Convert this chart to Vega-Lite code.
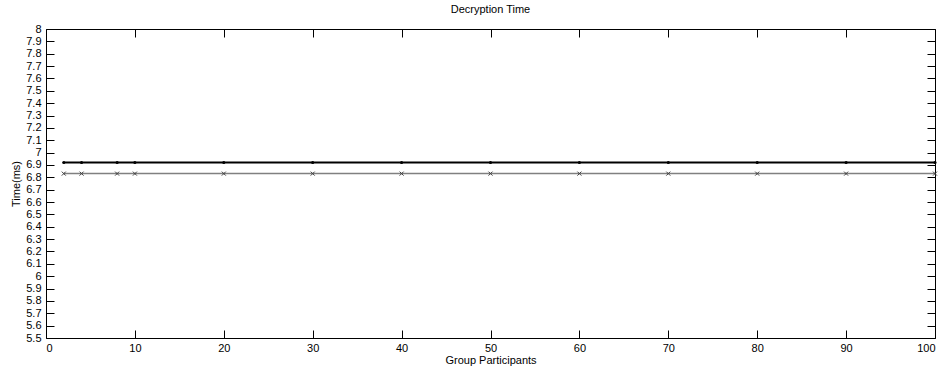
{
  "$schema": "https://vega.github.io/schema/vega-lite/v6.json",
  "width": 889,
  "height": 309,
  "autosize": {"type": "none"},
  "padding": {"left": 46, "top": 29, "right": 8, "bottom": 30},
  "background": "white",
  "title": {"text": "Decryption Time", "font": "Liberation Sans", "fontSize": 11, "fontWeight": "normal", "color": "black", "offset": 8},
  "config": {
    "view": {"stroke": "black", "strokeWidth": 1},
    "axis": {
      "domain": false,
      "grid": false,
      "ticks": true,
      "tickColor": "black",
      "tickSize": -8,
      "tickWidth": 1,
      "labelFont": "Liberation Sans",
      "labelFontSize": 11,
      "labelColor": "black",
      "titleFont": "Liberation Sans",
      "titleFontSize": 11,
      "titleFontWeight": "normal",
      "titleColor": "black"
    }
  },
  "data": {
    "values": [
      {"p": 2, "t": 6.92, "s": "A"}, {"p": 4, "t": 6.92, "s": "A"}, {"p": 8, "t": 6.92, "s": "A"}, {"p": 10, "t": 6.92, "s": "A"},
      {"p": 20, "t": 6.92, "s": "A"}, {"p": 30, "t": 6.92, "s": "A"}, {"p": 40, "t": 6.92, "s": "A"}, {"p": 50, "t": 6.92, "s": "A"},
      {"p": 60, "t": 6.92, "s": "A"}, {"p": 70, "t": 6.92, "s": "A"}, {"p": 80, "t": 6.92, "s": "A"}, {"p": 90, "t": 6.92, "s": "A"},
      {"p": 100, "t": 6.92, "s": "A"},
      {"p": 2, "t": 6.83, "s": "B"}, {"p": 4, "t": 6.83, "s": "B"}, {"p": 8, "t": 6.83, "s": "B"}, {"p": 10, "t": 6.83, "s": "B"},
      {"p": 20, "t": 6.83, "s": "B"}, {"p": 30, "t": 6.83, "s": "B"}, {"p": 40, "t": 6.83, "s": "B"}, {"p": 50, "t": 6.83, "s": "B"},
      {"p": 60, "t": 6.83, "s": "B"}, {"p": 70, "t": 6.83, "s": "B"}, {"p": 80, "t": 6.83, "s": "B"}, {"p": 90, "t": 6.83, "s": "B"},
      {"p": 100, "t": 6.83, "s": "B"}
    ]
  },
  "layer": [
    {
      "encoding": {
        "x": {"field": "p", "type": "quantitative", "scale": {"domain": [0, 100], "nice": false},
          "axis": {"orient": "bottom", "title": "Group Participants", "values": [0,10,20,30,40,50,60,70,80,90,100], "labelPadding": 12, "titlePadding": 1}},
        "y": {"field": "t", "type": "quantitative", "scale": {"domain": [5.5, 8], "nice": false, "zero": false},
          "axis": {"orient": "left", "title": "Time(ms)", "format": "~g", "values": [5.5,5.6,5.7,5.8,5.9,6,6.1,6.2,6.3,6.4,6.5,6.6,6.7,6.8,6.9,7,7.1,7.2,7.3,7.4,7.5,7.6,7.7,7.8,7.9,8], "labelPadding": 13, "titlePadding": 4}}
      },
      "layer": [
        {"transform": [{"filter": "datum.s === 'B'"}], "mark": {"type": "line", "stroke": "#808080", "strokeWidth": 1.5}},
        {"transform": [{"filter": "datum.s === 'A'"}], "mark": {"type": "line", "stroke": "#000000", "strokeWidth": 2}},
        {"transform": [{"filter": "datum.s === 'B'"}], "mark": {"type": "point", "shape": "M-1,-1L1,1M1,-1L-1,1", "filled": false, "stroke": "#404040", "strokeWidth": 1, "size": 16, "opacity": 1}},
        {"transform": [{"filter": "datum.s === 'A'"}], "mark": {"type": "point", "shape": "circle", "filled": true, "color": "#000000", "size": 10, "opacity": 1}}
      ]
    },
    {
      "mark": {"type": "point", "opacity": 0},
      "encoding": {
        "x": {"field": "p", "type": "quantitative", "scale": {"domain": [0, 100], "nice": false},
          "axis": {"orient": "top", "title": null, "labels": false, "values": [0,10,20,30,40,50,60,70,80,90,100]}},
        "y": {"field": "t", "type": "quantitative", "scale": {"domain": [5.5, 8], "nice": false, "zero": false},
          "axis": {"orient": "right", "title": null, "labels": false, "values": [5.5,5.6,5.7,5.8,5.9,6,6.1,6.2,6.3,6.4,6.5,6.6,6.7,6.8,6.9,7,7.1,7.2,7.3,7.4,7.5,7.6,7.7,7.8,7.9,8]}}
      }
    }
  ],
  "resolve": {"axis": {"x": "independent", "y": "independent"}}
}
